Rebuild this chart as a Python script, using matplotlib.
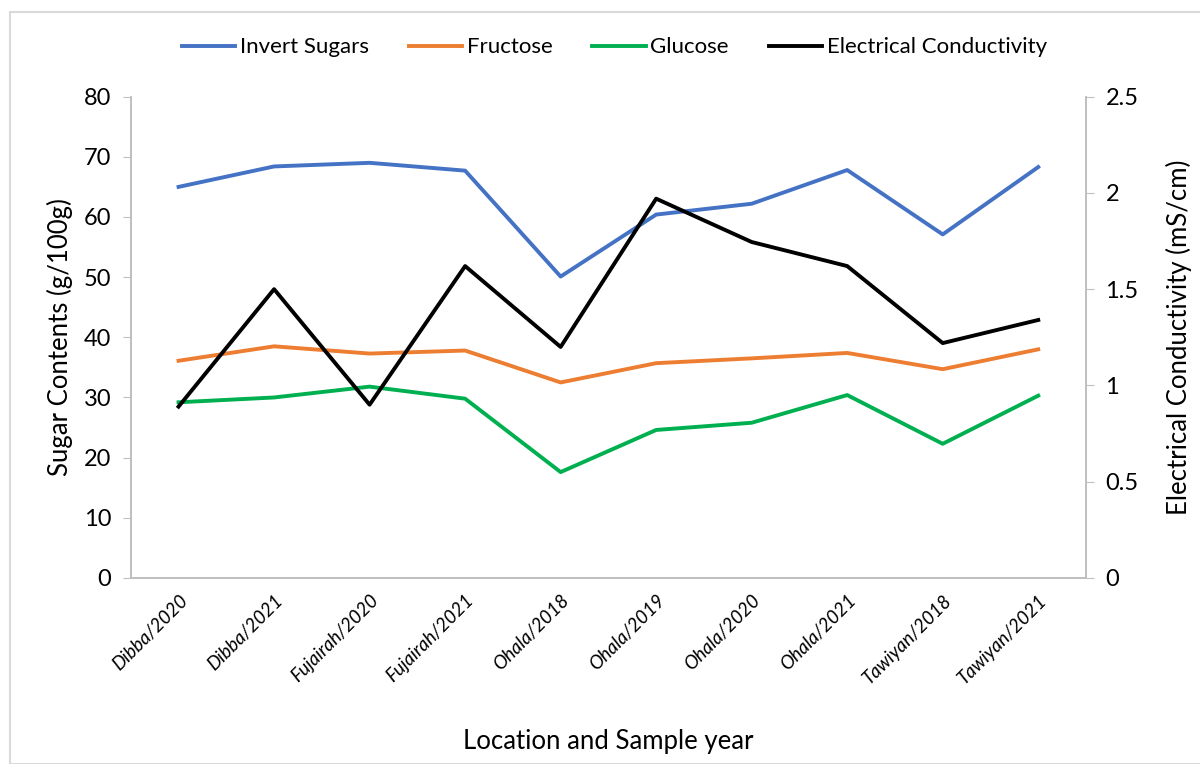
import matplotlib.pyplot as plt
from matplotlib.patches import Rectangle

plt.rcParams['font.family'] = ['Lato', 'DejaVu Sans']

samples = ['Dibba/2020', 'Dibba/2021', 'Fujairah/2020', 'Fujairah/2021', 'Ohala/2018',
           'Ohala/2019', 'Ohala/2020', 'Ohala/2021', 'Tawiyan/2018', 'Tawiyan/2021']
invert = [65.0, 68.4, 69.0, 67.7, 50.1, 60.4, 62.2, 67.8, 57.1, 68.3]
fructose = [36.1, 38.5, 37.3, 37.8, 32.5, 35.7, 36.5, 37.4, 34.7, 38.0]
glucose = [29.2, 30.0, 31.8, 29.8, 17.6, 24.6, 25.8, 30.4, 22.3, 30.3]
ec = [0.89, 1.50, 0.90, 1.62, 1.20, 1.97, 1.745, 1.62, 1.22, 1.34]

x = list(range(len(samples)))

fig = plt.figure(figsize=(12, 7.64), dpi=100)
fig.patches.append(Rectangle((10/1200, 0), 1.0, 1 - 12/764, transform=fig.transFigure,
                             fill=False, edgecolor='#d9d9d9', linewidth=1.5))
ax = fig.add_axes([0.109, 0.2435, 0.796, 0.63])
ax2 = ax.twinx()

l1, = ax.plot(x, invert, color='#4472c4', lw=2.8, label='Invert Sugars')
l2, = ax.plot(x, fructose, color='#ed7d31', lw=2.8, label='Fructose')
l3, = ax.plot(x, glucose, color='#00b050', lw=2.8, label='Glucose')
l4, = ax2.plot(x, ec, color='black', lw=2.8, label='Electrical Conductivity')

ax.set_xlim(-0.5, 9.5)
ax.set_ylim(0, 80)
ax.set_yticks(range(0, 81, 10))
ax2.set_ylim(0, 2.5)
ax2.set_yticks([0, 0.5, 1, 1.5, 2, 2.5])
ax2.set_yticklabels(['0', '0.5', '1', '1.5', '2', '2.5'])

ax.set_xticks(x)
ax.set_xticklabels(samples, rotation=45, ha='right', rotation_mode='anchor',
                   fontsize=13.5, fontstyle='italic')
ax.tick_params(axis='x', length=0, pad=10)
ax.tick_params(axis='y', labelsize=17, color='#bfbfbf', length=6, pad=8)
ax2.tick_params(axis='y', labelsize=17, color='#bfbfbf', length=6, pad=8)

for a in (ax, ax2):
    a.spines['top'].set_visible(False)
    for s in ('left', 'right', 'bottom'):
        a.spines[s].set_color('#bfbfbf')
        a.spines[s].set_linewidth(1.2)

ax.set_ylabel('Sugar Contents (g/100g)', fontsize=18.5, labelpad=8)
ax2.set_ylabel('Electrical Conductivity (mS/cm)', fontsize=18.5, labelpad=20)
ax.set_xlabel('Location and Sample year', fontsize=18.5, labelpad=30)

fig.legend(handles=[l1, l2, l3, l4], loc='center', bbox_to_anchor=(0.512, 0.938),
           ncol=4, frameon=False, fontsize=16, handlelength=2.4, handletextpad=0.2,
           columnspacing=1.8)

fig.savefig('out.png', dpi=100)
